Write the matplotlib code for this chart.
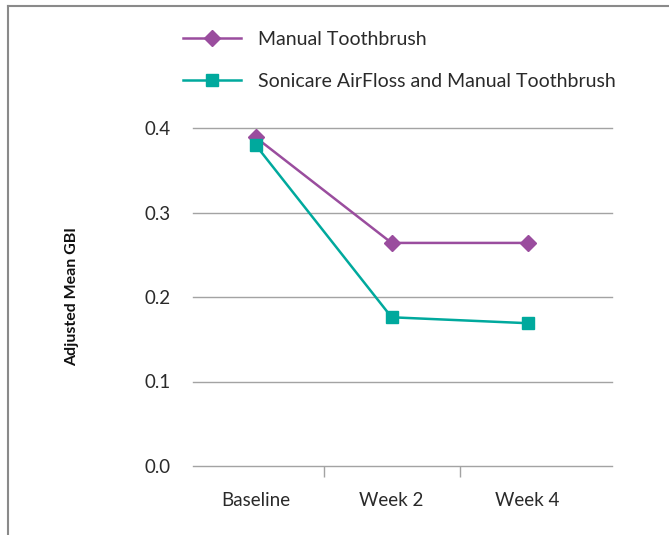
import matplotlib
matplotlib.use("Agg")
import matplotlib.pyplot as plt
from matplotlib.lines import Line2D

categories = ["Baseline", "Week 2", "Week 4"]
manual = [0.389, 0.264, 0.264]
sonicare = [0.380, 0.176, 0.169]
y_ticks = [0.0, 0.1, 0.2, 0.3, 0.4]

purple = "#9a4d9e"
teal = "#00a99d"
grid_gray = "#a3a3a3"
text_col = "#2a2a2a"

plt.rcParams["font.family"] = ["Lato", "DejaVu Sans"]

fig = plt.figure(figsize=(6.69, 5.35), dpi=100)
ax = fig.add_axes([193 / 669, 1 - 466 / 535, 419 / 669, 338 / 535])

x = list(range(len(categories)))
ax.plot(x, manual, color=purple, lw=1.8, marker="D", ms=8,
        label="Manual Toothbrush", zorder=3)
ax.plot(x, sonicare, color=teal, lw=1.8, marker="s", ms=9,
        label="Sonicare AirFloss and Manual Toothbrush", zorder=3)

ax.set_xlim(-0.46, 2.62)
ax.set_ylim(0, 0.4)
ax.set_yticks(y_ticks)
ax.set_yticklabels([f"{v:.1f}" for v in y_ticks])
ax.set_xticks(x)
ax.set_xticklabels(categories)
ax.set_xticks([0.5, 1.5], minor=True)

for v in y_ticks[1:]:
    ax.axhline(v, color=grid_gray, lw=1, zorder=1, clip_on=False)

for s in ["top", "right", "left"]:
    ax.spines[s].set_visible(False)
ax.spines["bottom"].set_color(grid_gray)
ax.spines["bottom"].set_linewidth(1)

ax.tick_params(axis="x", which="major", length=0, pad=19,
               labelsize=13.5, labelcolor=text_col)
ax.tick_params(axis="x", which="minor", length=8, width=1, color=grid_gray)
ax.tick_params(axis="y", length=0, pad=16, labelsize=13.5, labelcolor=text_col)

fig.text(72 / 669, 1 - 297 / 535, "Adjusted Mean GBI", rotation=90,
         ha="center", va="center", fontsize=11.5, fontweight="bold",
         color="#111111")

leg = fig.legend(loc="upper left", bbox_to_anchor=(183 / 669, 1 - 31 / 535),
                 frameon=False, fontsize=14, handlelength=3.0,
                 handletextpad=0.85, labelspacing=1.3, borderpad=0,
                 borderaxespad=0)
for t in leg.get_texts():
    t.set_color(text_col)

# frame around the figure (left and top edges visible)
fig.add_artist(Line2D([8 / 669, 8 / 669], [0, 1 - 6 / 535],
                      color="#8a8a8a", lw=1.5, transform=fig.transFigure))
fig.add_artist(Line2D([8 / 669, 1], [1 - 6 / 535, 1 - 6 / 535],
                      color="#8a8a8a", lw=1.5, transform=fig.transFigure))

fig.savefig("out.png", dpi=100)
